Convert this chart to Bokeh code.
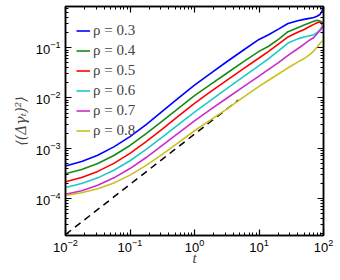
from bokeh.plotting import figure
from bokeh.models import LogAxis, LogTicker, Legend, LegendItem, Range1d
from bokeh.embed import file_html
from bokeh.resources import INLINE

t = [0.01, 0.0178, 0.0316, 0.0562, 0.1, 0.178, 0.316, 0.562, 1.0, 1.78, 3.16, 5.62,
     10.0, 14.1, 20.0, 28.2, 39.8, 50.1, 63.1, 70.8, 79.4, 89.1, 95.5, 100.0]

msd_03 = [4.42e-4, 5.43e-4, 7.24e-4, 1.06e-3, 1.70e-3, 2.95e-3, 5.37e-3, 9.89e-3,
          1.80e-2, 3.09e-2, 5.25e-2, 8.81e-2, 0.146, 0.181, 0.234, 0.304, 0.345,
          0.367, 0.388, 0.400, 0.423, 0.465, 0.548, 0.662]
msd_04 = [3.08e-4, 3.75e-4, 4.94e-4, 7.14e-4, 1.13e-3, 1.95e-3, 3.46e-3, 6.22e-3,
          1.11e-2, 1.86e-2, 3.10e-2, 5.15e-2, 8.47e-2, 0.107, 0.146, 0.208, 0.251,
          0.283, 0.318, 0.337, 0.353, 0.337, 0.318, 0.296]
msd_05 = [2.14e-4, 2.61e-4, 3.44e-4, 4.97e-4, 7.87e-4, 1.35e-3, 2.40e-3, 4.35e-3,
          7.78e-3, 1.33e-2, 2.24e-2, 3.76e-2, 6.24e-2, 8.47e-2, 0.118, 0.164, 0.203,
          0.231, 0.270, 0.292, 0.314, 0.326, 0.290, 0.270]
msd_06 = [1.64e-4, 1.97e-4, 2.56e-4, 3.62e-4, 5.61e-4, 9.42e-4, 1.66e-3, 2.94e-3,
          5.21e-3, 8.95e-3, 1.53e-2, 2.59e-2, 4.38e-2, 6.08e-2, 8.67e-2, 0.124, 0.150,
          0.164, 0.175, 0.182, 0.199, 0.234, 0.270, 0.311]
msd_07 = [1.20e-4, 1.42e-4, 1.83e-4, 2.56e-4, 3.92e-4, 6.50e-4, 1.13e-3, 2.00e-3,
          3.48e-3, 5.89e-3, 9.86e-3, 1.64e-2, 2.72e-2, 3.71e-2, 5.04e-2, 7.01e-2, 9.53e-2,
          0.118, 0.146, 0.160, 0.189, 0.223, 0.251, 0.283]
msd_08 = [1.14e-4, 1.29e-4, 1.56e-4, 2.03e-4, 2.90e-4, 4.54e-4, 7.53e-4, 1.29e-3,
          2.22e-3, 3.66e-3, 6.00e-3, 1.01e-2, 1.70e-2, 2.25e-2, 2.99e-2, 3.98e-2, 5.16e-2,
          6.08e-2, 7.53e-2, 8.67e-2, 0.102, 0.124, 0.136, 0.139]

ref_t = [0.01, 4.8]
ref_msd = [1.9e-5, 9.1e-3]

series = [("\u03c1 = 0.3", msd_03, "#0000ff"),
          ("\u03c1 = 0.4", msd_04, "#148c14"),
          ("\u03c1 = 0.5", msd_05, "#ff0000"),
          ("\u03c1 = 0.6", msd_06, "#1ec8c8"),
          ("\u03c1 = 0.7", msd_07, "#cc2acc"),
          ("\u03c1 = 0.8", msd_08, "#c8c020")]

p = figure(width=336, height=279, x_axis_type="log", y_axis_type="log",
           x_range=Range1d(0.01, 100), y_range=Range1d(1.82e-5, 0.662),
           output_backend="svg", toolbar_location=None,
           min_border_left=65, min_border_right=13, min_border_top=6, min_border_bottom=44)
p.xgrid.visible = False
p.ygrid.visible = False
p.outline_line_color = "black"
p.outline_line_width = 1.5
p.background_fill_color = "white"

p.line(ref_t, ref_msd, line_color="black", line_width=1.5, line_dash="7 5")

items = []
for label, vals, col in series:
    r = p.line(t, vals, line_color=col, line_width=1.6)
    items.append(LegendItem(label=label, renderers=[r]))

legend = Legend(items=items, location=(11, 96), glyph_width=14, glyph_height=15,
                label_height=15, spacing=3, padding=0, margin=0, label_standoff=3,
                border_line_color=None, background_fill_alpha=0,
                label_text_font="Liberation Serif", label_text_font_size="15px")
p.add_layout(legend)

def style(ax, labels=True):
    ax.ticker = LogTicker(num_minor_ticks=10)
    ax.axis_line_color = "black"
    ax.axis_line_width = 1.5
    ax.major_tick_in = 6
    ax.major_tick_out = 0
    ax.minor_tick_in = 3
    ax.minor_tick_out = 0
    ax.major_tick_line_color = "black"
    ax.minor_tick_line_color = "black"
    ax.major_tick_line_width = 1.2
    ax.minor_tick_line_width = 1
    if labels:
        ax.major_label_text_font = "Liberation Sans"
        ax.major_label_text_font_size = "13px"
        ax.major_label_text_color = "black"
    else:
        ax.major_label_text_font_size = "0px"
        ax.major_label_text_alpha = 0

style(p.xaxis[0])
style(p.yaxis[0])
p.xaxis[0].axis_label = "t"
p.xaxis[0].axis_label_text_font = "Liberation Serif"
p.xaxis[0].axis_label_text_font_style = "italic"
p.xaxis[0].axis_label_text_font_size = "15px"
p.xaxis[0].axis_label_standoff = -5
p.xaxis[0].major_label_standoff = 3
p.yaxis[0].axis_label = "\u27e8(\u0394\u03b3\u209c)\u00b2\u27e9"
p.yaxis[0].axis_label_text_font = "DejaVu Serif"
p.yaxis[0].axis_label_text_font_style = "italic"
p.yaxis[0].axis_label_text_font_size = "14px"
p.yaxis[0].axis_label_standoff = 4
p.yaxis[0].major_label_standoff = 5

top = LogAxis()
style(top, labels=False)
p.add_layout(top, "above")
right = LogAxis()
style(right, labels=False)
p.add_layout(right, "right")

open("out.html", "w").write(file_html(p, INLINE))
